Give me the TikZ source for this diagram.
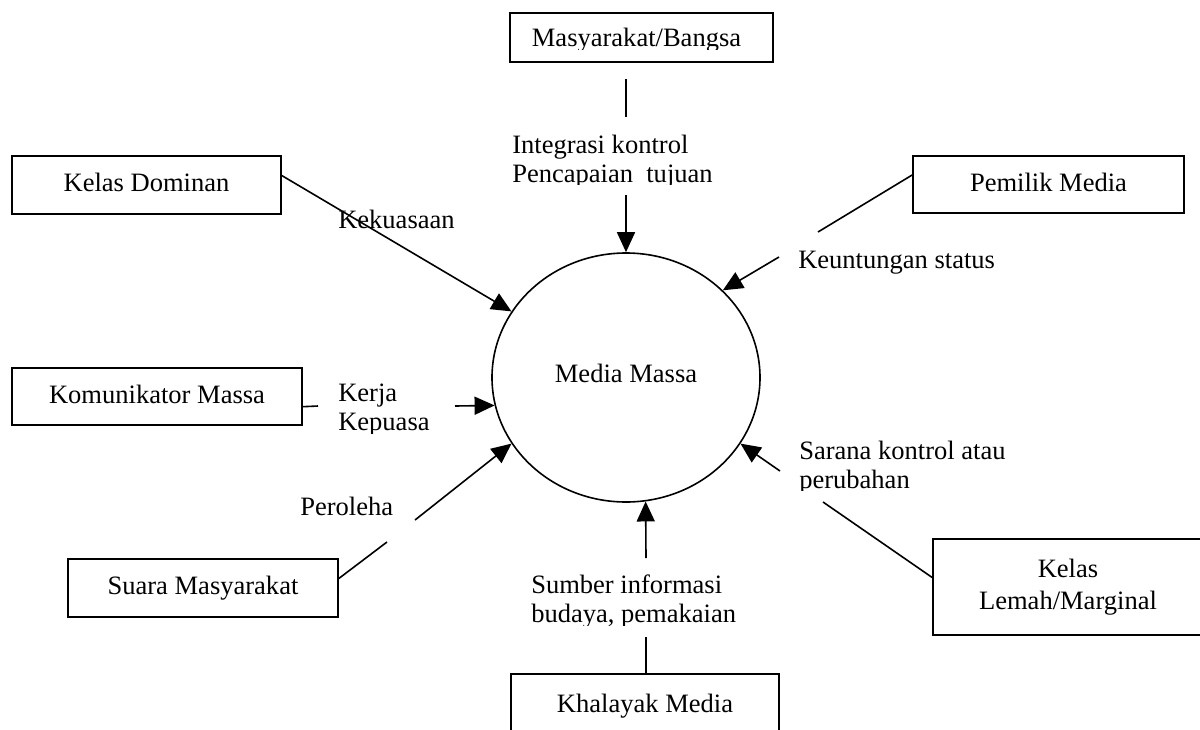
\documentclass[tikz,border=0pt]{standalone}
\usepackage{fontspec}
\setmainfont{Liberation Serif}
\usetikzlibrary{arrows.meta,shapes.geometric}
\begin{document}
\begin{tikzpicture}[x=0.75pt,y=-0.75pt,
  every node/.style={font=\fontsize{19.9}{21.75}\selectfont},
  boxbase/.style={draw, line width=1.2pt, inner sep=0pt, align=center},
  box/.style={boxbase, text height=15pt, text depth=5pt},
  lbl/.style={inner sep=0pt, anchor=base west, align=left},
  ln/.style={line width=1.2pt},
  arr/.style={line width=1.2pt, -{Triangle[length=15pt,width=13.5pt]}},
]
\fill[white] (0,0) rectangle (1200,729);
\useasboundingbox (0,0) rectangle (1200,729);
\clip (0,0) rectangle (1200,729);

% centre
\node[draw, ellipse, line width=1.2pt, minimum width=201pt, minimum height=186.75pt,
      inner sep=0pt, text height=14pt, text depth=6pt] (mm) at (626,377.5) {Media Massa};

% boxes
\begin{scope}
  % the text box of the original cuts the descenders off
  \clip (0,0) -- (1200,0) -- (1200,729) -- (0,729) -- cycle
        (522,49) -- (522,60) -- (762,60) -- (762,49) -- cycle;
  \node[box, minimum width=197.25pt, minimum height=36.75pt, text height=16.8pt, text depth=3pt]
    (mb) at (641.5,37.5) {Masyarakat/Bangsa\hspace{7.5pt}};
\end{scope}
\node[box, minimum width=201.75pt, minimum height=43.5pt] (kd) at (146.5,185) {Kelas Dominan};
\node[box, minimum width=203.25pt, minimum height=42.75pt] (pm) at (1048.5,184.5) {Pemilik Media};
\node[box, minimum width=217.5pt, minimum height=42.75pt] (km) at (157,396.5) {Komunikator Massa};
\node[box, minimum width=202.5pt, minimum height=43.5pt] (sm) at (203,588) {Suara Masyarakat};
\node[boxbase, minimum width=202.5pt, minimum height=72pt, font=\fontsize{19.9}{24}\selectfont]
  (kl) at (1068,587) {Kelas\\Lemah/Marginal};
\node[box, minimum width=201pt, minimum height=48pt] (kh) at (645,706) {Khalayak Media};

% labels
\begin{scope}
  \clip (500,100) rectangle (730,184.5);
  \node[lbl] (l1) at (512,182) {Integrasi kontrol\\Pencapaian\ \ tujuan};
\end{scope}
\node[lbl] (l2) at (338,228) {Kekuasaan};
\node[lbl] (l3) at (798,268) {Keuntungan status};
\begin{scope}
  \clip (330,370) rectangle (450,433);
  \node[lbl] (l4) at (338,430) {Kerja\\Kepuasa};
\end{scope}
\node[lbl] (l5) at (300,515) {Peroleha};
\begin{scope}
  \clip (790,430) rectangle (1060,490.5);
  \node[lbl] (l6) at (799,488) {Sarana kontrol atau\\perubahan};
\end{scope}
\begin{scope}
  \clip (520,560) rectangle (780,625);
  \node[lbl] (l7) at (531,622) {Sumber informasi\\budaya, pemakaian};
\end{scope}

% connectors
\coordinate (a1) at (626,79); \coordinate (a2) at (626,117); \coordinate (a3) at (626,195);
\draw[ln] (a1) -- (a2);
\draw[arr] (a3) -- (mm.north);

\draw[arr] (kd.4.3) -- (mm.150);

\coordinate (b1) at (818,232); \coordinate (b2) at (779,257);
\draw[ln] (pm.176.8) -- (b1);
\draw[arr] (b2) -- (mm.42);

\coordinate (c1) at (318,406); \coordinate (c2) at (455,406);
\draw[ln] (km.356.3) -- (c1);
\draw[arr] (c2) -- (mm.192);

\coordinate (d1) at (387,542); \coordinate (d2) at (415,520);
\draw[ln] (sm.4.66) -- (d1);
\draw[arr] (d2) -- (mm.210.8);

\coordinate (e1) at (823,502); \coordinate (e2) at (780,471);
\draw[ln] (kl.176) -- (e1);
\draw[arr] (e2) -- (mm.330);

\coordinate (f1) at (646,637); \coordinate (f2) at (646,558);
\draw[ln] (kh.north -| f1) -- (f1);
\draw[arr] (f2) -- (mm.279);
\end{tikzpicture}
\end{document}
